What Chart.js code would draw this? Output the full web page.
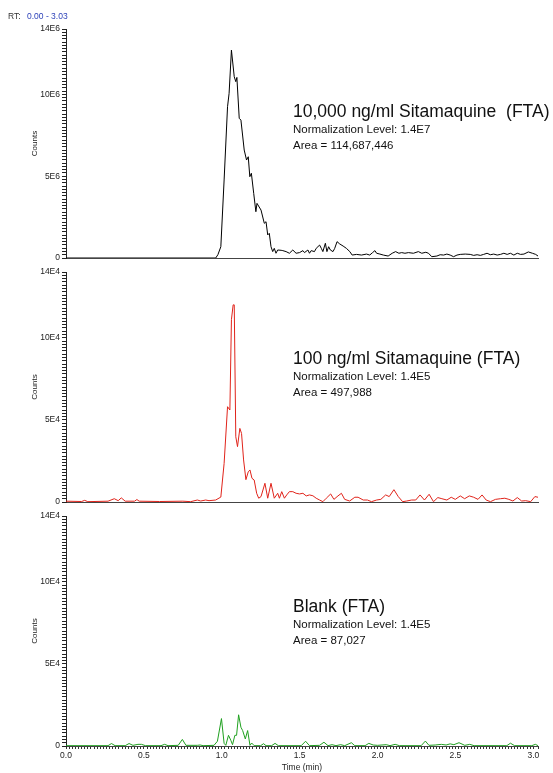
<!DOCTYPE html>
<html>
<head>
<meta charset="utf-8">
<script src="https://cdn.jsdelivr.net/npm/chart.js@4"></script>
<style>
  body { margin: 0; background: #fff; }
  #wrap { position: relative; width: 553px; height: 773px; }
  #wrap canvas { position: absolute; left: 0; top: 0; }
</style>
</head>
<body>
<div id="wrap">
  <canvas id="chart1" width="553" height="773"></canvas>
  <canvas id="chart2" width="553" height="773"></canvas>
  <canvas id="chart3" width="553" height="773"></canvas>
</div>
<script>
// Tiempo (min) y cuentas de cada traza (10,000 ng/ml en E6, las otras en E4)
const time10k = [0, 0.961, 0.975, 0.994, 1.015, 1.037, 1.047, 1.062, 1.08, 1.09, 1.097, 1.112, 1.123, 1.144, 1.159, 1.17, 1.18, 1.19, 1.205, 1.219, 1.226, 1.252, 1.273, 1.284, 1.295, 1.305, 1.316, 1.327, 1.337, 1.348, 1.359, 1.381, 1.392, 1.413, 1.434, 1.456, 1.477, 1.499, 1.521, 1.531, 1.553, 1.563, 1.574, 1.595, 1.606, 1.628, 1.639, 1.649, 1.665, 1.675, 1.686, 1.697, 1.714, 1.725, 1.74, 1.757, 1.779, 1.8, 1.822, 1.837, 1.865, 1.897, 1.929, 1.95, 1.968, 1.983, 1.994, 2.015, 2.037, 2.068, 2.094, 2.116, 2.137, 2.155, 2.176, 2.198, 2.23, 2.262, 2.284, 2.31, 2.327, 2.348, 2.381, 2.402, 2.424, 2.445, 2.466, 2.488, 2.51, 2.531, 2.563, 2.595, 2.617, 2.639, 2.66, 2.681, 2.703, 2.724, 2.746, 2.768, 2.789, 2.811, 2.832, 2.853, 2.875, 2.897, 2.918, 2.94, 2.968, 2.994, 3.015, 3.03];
const counts10k = [0, 0, 0.2, 0.69, 4.77, 9.25, 10.07, 12.71, 11.08, 10.78, 11.04, 8.54, 8.43, 6.6, 5.99, 6.19, 4.97, 5.18, 3.95, 2.83, 3.34, 2.93, 2.12, 2.22, 1.41, 1.51, 0.69, 0.39, 0.59, 0.29, 0.49, 0.47, 0.45, 0.39, 0.29, 0.49, 0.29, 0.33, 0.45, 0.33, 0.49, 0.29, 0.45, 0.39, 0.59, 0.79, 0.59, 0.39, 0.9, 0.39, 0.69, 0.49, 0.39, 0.59, 1.0, 0.86, 0.73, 0.59, 0.39, 0.18, 0.22, 0.18, 0.24, 0.18, 0.33, 0.45, 0.29, 0.24, 0.18, 0.12, 0.29, 0.39, 0.29, 0.33, 0.29, 0.33, 0.29, 0.39, 0.29, 0.35, 0.29, 0.08, 0.12, 0.2, 0.18, 0.24, 0.18, 0.08, 0.18, 0.22, 0.24, 0.22, 0.16, 0.2, 0.16, 0.22, 0.29, 0.2, 0.24, 0.18, 0.22, 0.29, 0.22, 0.29, 0.18, 0.29, 0.22, 0.24, 0.37, 0.29, 0.22, 0.12];

const time100 = [0, 0.1, 0.12, 0.14, 0.27, 0.31, 0.335, 0.355, 0.38, 0.44, 0.455, 0.47, 0.6, 0.75, 0.8, 0.843, 0.865, 0.897, 0.918, 0.961, 0.994, 1.015, 1.037, 1.052, 1.062, 1.073, 1.08, 1.09, 1.101, 1.116, 1.127, 1.14, 1.155, 1.17, 1.181, 1.194, 1.208, 1.224, 1.237, 1.252, 1.277, 1.295, 1.316, 1.337, 1.359, 1.37, 1.385, 1.402, 1.417, 1.434, 1.456, 1.477, 1.499, 1.521, 1.542, 1.563, 1.585, 1.606, 1.628, 1.649, 1.671, 1.699, 1.72, 1.746, 1.768, 1.789, 1.821, 1.854, 1.875, 1.908, 1.935, 1.961, 1.994, 2.021, 2.052, 2.075, 2.105, 2.133, 2.161, 2.187, 2.219, 2.245, 2.273, 2.301, 2.331, 2.359, 2.387, 2.413, 2.445, 2.473, 2.499, 2.531, 2.559, 2.589, 2.617, 2.645, 2.671, 2.697, 2.725, 2.757, 2.789, 2.817, 2.843, 2.869, 2.897, 2.925, 2.951, 2.983, 3.01, 3.03];
const counts100 = [0.05, 0.03, 0.1, 0.02, 0.05, 0.2, 0.08, 0.25, 0.05, 0.05, 0.15, 0.05, 0.03, 0.05, 0.02, 0.12, 0.06, 0.12, 0.08, 0.12, 0.3, 2.35, 5.8, 5.6, 11.1, 12.0, 12.0, 3.97, 3.37, 4.48, 4.17, 2.56, 1.36, 1.84, 1.95, 1.44, 1.34, 0.53, 0.23, 0.33, 1.14, 0.23, 1.14, 0.23, 0.53, 0.23, 0.63, 0.23, 0.43, 0.63, 0.63, 0.53, 0.49, 0.53, 0.37, 0.43, 0.38, 0.23, 0.12, 0.02, 0.23, 0.49, 0.16, 0.37, 0.53, 0.16, 0.06, 0.29, 0.29, 0.12, 0.12, 0.02, 0.12, 0.16, 0.43, 0.33, 0.75, 0.33, 0.02, 0.06, 0.12, 0.12, 0.43, 0.12, 0.47, 0.02, 0.27, 0.2, 0.12, 0.29, 0.16, 0.37, 0.2, 0.37, 0.29, 0.16, 0.43, 0.12, 0.02, 0.16, 0.2, 0.23, 0.16, 0.06, 0.27, 0.06, 0.08, 0.02, 0.33, 0.29];

const timeBlank = [0, 0.27, 0.292, 0.315, 0.38, 0.405, 0.43, 0.462, 0.485, 0.51, 0.61, 0.633, 0.655, 0.72, 0.747, 0.77, 0.843, 0.861, 0.88, 0.95, 0.972, 0.998, 1.015, 1.026, 1.043, 1.058, 1.069, 1.084, 1.095, 1.108, 1.123, 1.134, 1.151, 1.166, 1.181, 1.192, 1.208, 1.25, 1.268, 1.284, 1.32, 1.342, 1.363, 1.51, 1.538, 1.563, 1.628, 1.656, 1.682, 1.708, 1.733, 1.763, 1.789, 1.832, 1.854, 1.92, 1.944, 1.972, 2.0, 2.056, 2.08, 2.113, 2.14, 2.28, 2.307, 2.33, 2.37, 2.41, 2.44, 2.466, 2.49, 2.523, 2.56, 2.592, 2.62, 2.83, 2.853, 2.88, 2.99, 3.013, 3.03];
const countsBlank = [0.02, 0.02, 0.15, 0.02, 0.02, 0.15, 0.04, 0.1, 0.1, 0.02, 0.02, 0.1, 0.02, 0.04, 0.4, 0.04, 0.04, 0.06, 0.02, 0.04, 0.29, 1.67, 0.16, 0.04, 0.65, 0.35, 0.08, 0.65, 0.65, 1.9, 1.14, 0.94, 0.43, 0.94, 0.04, 0.18, 0.02, 0.02, 0.14, 0.02, 0.02, 0.16, 0.02, 0.02, 0.29, 0.02, 0.04, 0.23, 0.02, 0.08, 0.02, 0.08, 0.02, 0.2, 0.02, 0.02, 0.16, 0.06, 0.04, 0.08, 0.02, 0.1, 0.02, 0.02, 0.3, 0.04, 0.06, 0.1, 0.06, 0.13, 0.08, 0.2, 0.04, 0.1, 0.02, 0.02, 0.17, 0.02, 0.02, 0.1, 0.02];

// Etiquetas de ejes y textos
const timeLabels = [0, 0.5, 1, 1.5, 2, 2.5, 3];
const countLabels = [0, 5, 10, 14];
const panelTitles = ["10,000 ng/ml Sitamaquine  (FTA)", "100 ng/ml Sitamaquine (FTA)", "Blank (FTA)"];
const normLevels = ["Normalization Level: 1.4E7", "Normalization Level: 1.4E5", "Normalization Level: 1.4E5"];
const areaTexts = ["Area = 114,687,446", "Area = 497,988", "Area = 87,027"];

const FONT = "'Liberation Sans', Arial, sans-serif";

// Plugin para dibujar los textos de cada panel
const panelText = {
  id: "panelText",
  afterDraw(chart, args, opts) {
    const ctx = chart.ctx;
    ctx.save();
    ctx.textAlign = "left";
    ctx.textBaseline = "middle";
    (opts.items || []).forEach(function (it) {
      ctx.font = it.size + "px " + FONT;
      ctx.fillStyle = it.color || "#111";
      ctx.fillText(it.text, it.x, it.y);
    });
    ctx.restore();
  },
};

function makePoints(times, counts) {
  return times.map(function (t, i) {
    return { x: t, y: counts[i] };
  });
}

function makeChart(id, times, counts, color, unit, pad, showTime, items) {
  const ctx = document.getElementById(id).getContext("2d");
  return new Chart(ctx, {
    type: "line",
    data: {
      datasets: [
        {
          data: makePoints(times, counts),
          borderColor: color,
          borderWidth: 1,
          pointRadius: 0,
          tension: 0,
          fill: false,
        },
      ],
    },
    options: {
      responsive: false,
      animation: false,
      layout: { padding: { top: pad[0], bottom: pad[1], left: 0, right: 15 } },
      plugins: {
        legend: { display: false },
        tooltip: { enabled: false },
        panelText: { items: items },
      },
      scales: {
        x: {
          type: "linear",
          min: 0,
          max: 3.03,
          border: { display: true, color: "#444", width: 1 },
          grid: { display: showTime, drawOnChartArea: false, drawTicks: true, tickLength: 3, color: "#333" },
          ticks: {
            display: showTime,
            stepSize: 0.02,
            autoSkip: false,
            maxRotation: 0,
            minRotation: 0,
            padding: 2,
            color: "#222",
            font: { family: FONT, size: 8.5 },
            callback: function (v) {
              return timeLabels.some((t) => Math.abs(t - v) < 1e-6) ? v.toFixed(1) : "";
            },
          },
          title: {
            display: showTime,
            text: "Time (min)",
            color: "#222",
            font: { family: FONT, size: 8.5 },
            padding: { top: 0, bottom: 0 },
          },
          afterFit: function (s) {
            s.height = showTime ? 27 : 0;
          },
        },
        y: {
          min: 0,
          max: 14,
          border: { display: true, color: "#222", width: 1 },
          grid: { drawOnChartArea: false, drawTicks: true, tickLength: 4, color: "#222" },
          ticks: {
            stepSize: 0.2,
            maxTicksLimit: 1000,
            autoSkip: false,
            padding: 2,
            color: "#222",
            font: { family: FONT, size: 8.5 },
            callback: function (v) {
              const hit = countLabels.some((c) => Math.abs(c - v) < 1e-6);
              if (!hit) return "";
              return Math.round(v) === 0 ? "0" : Math.round(v) + unit;
            },
          },
          title: {
            display: true,
            text: "Counts",
            color: "#222",
            font: { family: FONT, size: 8 },
            padding: { top: 30, bottom: 0 },
          },
          afterFit: function (s) {
            s.width = 66;
          },
        },
      },
    },
    plugins: [panelText],
  });
}

function textItems(i, top) {
  return [
    { text: panelTitles[i], x: 293, y: top, size: 17.5 },
    { text: normLevels[i], x: 293, y: top + 17.5, size: 11.5 },
    { text: areaTexts[i], x: 293, y: top + 33.5, size: 11.5 },
  ];
}

const items1 = textItems(0, 112).concat([
  { text: "RT:", x: 8, y: 17, size: 8.5, color: "#333" },
  { text: "0.00 - 3.03", x: 27, y: 17, size: 8.5, color: "#2a3fb8" },
]);

var chart1 = makeChart("chart1", time10k, counts10k, "#000000", "E6", [29, 515], false, items1);
var chart2 = makeChart("chart2", time100, counts100, "#e0231a", "E4", [272, 271], false, textItems(1, 359));
var chart3 = makeChart("chart3", timeBlank, countsBlank, "#1fa01f", "E4", [516, 0], true, textItems(2, 607));
</script>
</body>
</html>
